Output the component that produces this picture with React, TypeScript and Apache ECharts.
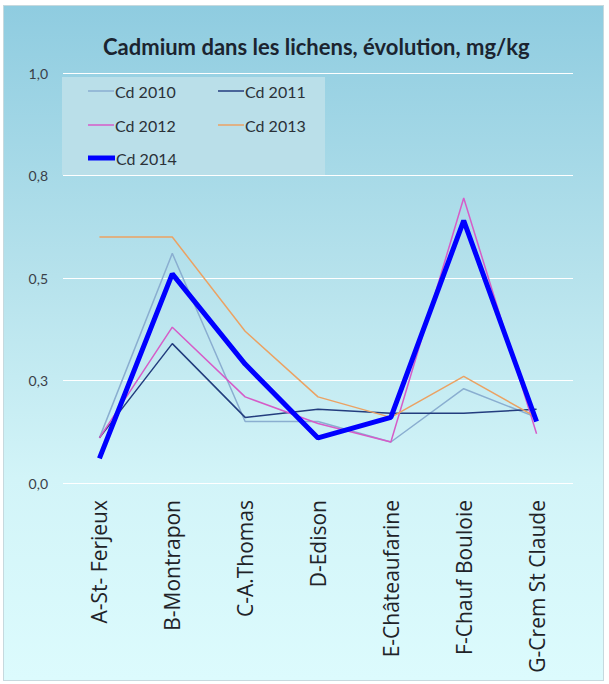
import React, { useEffect, useRef } from "react";
import * as echarts from "echarts";

const categories = [
  "A-St- Ferjeux",
  "B-Montrapon",
  "C-A.Thomas",
  "D-Edison",
  "E-Châteaufarine",
  "F-Chauf Bouloie",
  "G-Crem St Claude",
];
const cd2010 = [0.11, 0.56, 0.15, 0.15, 0.1, 0.23, 0.16];
const cd2011 = [0.11, 0.34, 0.16, 0.18, 0.17, 0.17, 0.18];
const cd2012 = [0.11, 0.38, 0.21, 0.145, 0.1, 0.695, 0.12];
const cd2013 = [0.6, 0.6, 0.37, 0.21, 0.16, 0.26, 0.16];
const cd2014 = [0.06, 0.51, 0.29, 0.11, 0.16, 0.64, 0.15];
const yTickLabels = ["0,0", "0,3", "0,5", "0,8", "1,0"];

const seriesDefs = [
  { name: "Cd 2010", data: cd2010, color: "#8aaed0", width: 1.5 },
  { name: "Cd 2011", data: cd2011, color: "#233d7e", width: 1.5 },
  { name: "Cd 2012", data: cd2012, color: "#d65cc8", width: 1.5 },
  { name: "Cd 2013", data: cd2013, color: "#eba263", width: 1.5 },
  { name: "Cd 2014", data: cd2014, color: "#0000ff", width: 5 },
];
const legendPos = [
  { left: 88, top: 83 },
  { left: 218, top: 83 },
  { left: 88, top: 117 },
  { left: 218, top: 117 },
  { left: 88, top: 150 },
];

export default function App() {
  const ref = useRef<HTMLDivElement>(null);
  useEffect(() => {
    document.body.style.margin = "0";
    const chart = echarts.init(ref.current!, undefined, { renderer: "svg" });
    const font = "Lato, 'Open Sans', sans-serif";
    chart.setOption({
      animation: false,
      backgroundColor: "transparent",
      title: {
        text: "Cadmium dans les lichens, évolution, mg/kg",
        left: 98,
        top: 30,
        textStyle: { fontFamily: font, fontSize: 22, fontWeight: "bold", color: "#1b2430" },
      },
      graphic: {
        elements: [
          {
            type: "rect",
            z: 1,
            shape: { x: 62, y: 77, width: 263, height: 98 },
            style: { fill: "#badfe9" },
          },
        ],
      },
      legend: seriesDefs.map((s, i) => ({
        data: [{ name: s.name, icon: "rect" }],
        left: legendPos[i].left,
        top: legendPos[i].top,
        itemWidth: s.width === 5 ? 27 : 26,
        itemHeight: s.width === 5 ? 5 : 1.5,
        itemGap: 0,
        padding: 0,
        textStyle: { fontFamily: font, fontSize: 16, color: "#2a3138", padding: [0, 0, 0, -4] },
      })),
      grid: { left: 63, right: 36, top: 73, bottom: 201 },
      xAxis: {
        type: "category",
        data: categories,
        boundaryGap: true,
        axisLine: { show: false },
        axisTick: { show: false },
        axisLabel: {
          rotate: 90,
          margin: 17,
          fontFamily: "'Open Sans', sans-serif",
          fontSize: 21,
          color: "#1f2328",
        },
      },
      yAxis: {
        type: "value",
        min: 0,
        max: 1,
        interval: 0.25,
        axisLine: { show: false },
        axisTick: { show: false },
        splitLine: { lineStyle: { color: "#ffffff", width: 1.2 } },
        axisLabel: {
          margin: 15,
          fontFamily: font,
          fontSize: 14,
          color: "#3a4048",
          formatter: (v: number) => yTickLabels[Math.round(v / 0.25)] ?? "",
        },
      },
      series: seriesDefs.map((s) => ({
        name: s.name,
        type: "line",
        data: s.data,
        symbol: "none",
        z: s.width === 5 ? 3 : 2,
        lineStyle: { color: s.color, width: s.width },
        itemStyle: { color: s.color },
      })),
    });
    return () => chart.dispose();
  }, []);
  return (
    <div style={{ position: "relative", width: 609, height: 684, background: "#ffffff" }}>
      <div
        style={{
          position: "absolute",
          left: 3,
          top: 5,
          width: 599,
          height: 674,
          background: "linear-gradient(to bottom, #8fcce0 0%, #b6e2ec 40%, #d2f4f8 70%, #dcfbfd 100%)",
          border: "1px solid #c6d9de",
        }}
      />
      <div ref={ref} style={{ position: "absolute", left: 0, top: 0, width: 609, height: 684 }} />
    </div>
  );
}
